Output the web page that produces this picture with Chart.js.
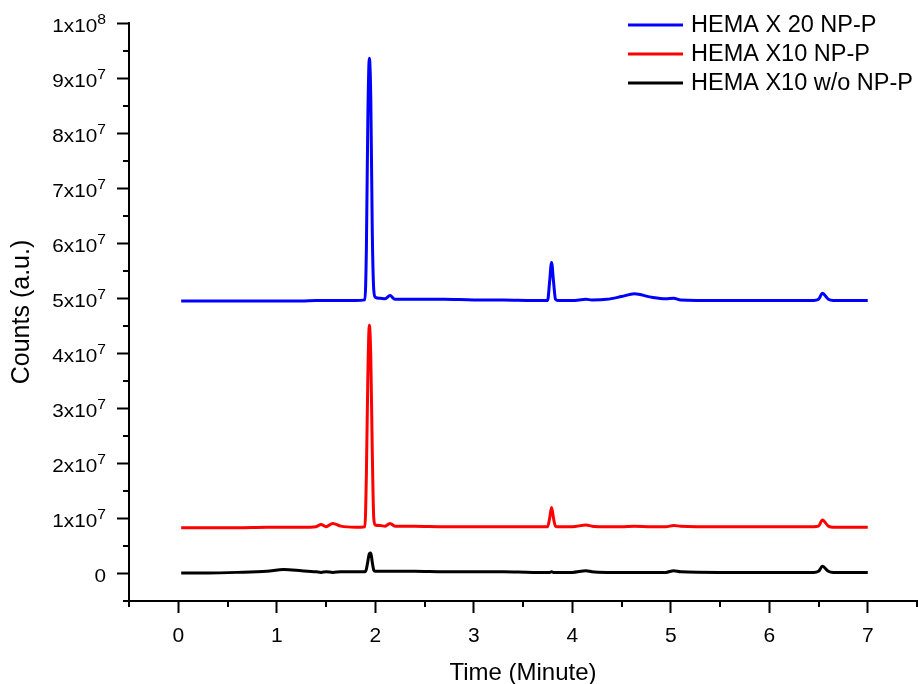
<!DOCTYPE html>
<html>
<head>
<meta charset="utf-8">
<title>HEMA chromatogram</title>
<script src="https://cdn.jsdelivr.net/npm/chart.js@4/dist/chart.umd.min.js"></script>
<style>
  html, body { margin: 0; padding: 0; background: #fff; }
  canvas { display: block; }
</style>
</head>
<body>
<canvas id="hplcChart" width="918" height="684"></canvas>
<script>
// retention time (minutes), shared by all three traces
const time = [0.03, 0.3, 0.6, 0.9, 1.07, 1.25, 1.4, 1.45, 1.5, 1.57, 1.65, 1.8,
  1.895, 1.91, 1.925, 1.94, 1.955, 1.97, 1.985, 2.0, 2.05, 2.1, 2.15, 2.2, 2.4,
  2.7, 3.0, 3.3, 3.6, 3.75, 3.77, 3.79, 3.81, 3.83, 3.85, 4.0, 4.14, 4.2, 4.35,
  4.5, 4.63, 4.8, 4.95, 5.03, 5.1, 5.5, 6.0, 6.45, 6.5, 6.54, 6.6, 6.65, 7.0];

// counts
const hemaX20 = [4.95e7, 4.95e7, 4.95e7, 4.95e7, 4.95e7, 4.95e7, 4.96e7, 4.96e7, 4.96e7, 4.96e7, 4.96e7, 4.96e7,
  4.97e7, 5.9e7, 8.3e7, 9.36e7, 8.6e7, 6.2e7, 5.15e7, 5.02e7, 5.0e7, 4.99e7, 5.05e7, 4.98e7, 4.98e7,
  4.98e7, 4.97e7, 4.97e7, 4.96e7, 4.96e7, 5.3e7, 5.65e7, 5.3e7, 4.98e7, 4.96e7, 4.96e7, 4.98e7, 4.97e7, 4.98e7,
  5.03e7, 5.08e7, 5.02e7, 4.99e7, 5.0e7, 4.97e7, 4.96e7, 4.96e7, 4.96e7, 4.98e7, 5.09e7, 4.98e7, 4.96e7, 4.96e7];

const hemaX10 = [0.83e7, 0.83e7, 0.83e7, 0.84e7, 0.84e7, 0.84e7, 0.85e7, 0.89e7, 0.85e7, 0.91e7, 0.86e7, 0.84e7,
  0.85e7, 1.8e7, 3.6e7, 4.51e7, 3.9e7, 2.2e7, 1.0e7, 0.88e7, 0.87e7, 0.86e7, 0.91e7, 0.86e7, 0.86e7,
  0.85e7, 0.85e7, 0.85e7, 0.85e7, 0.85e7, 1.0e7, 1.2e7, 1.0e7, 0.86e7, 0.85e7, 0.85e7, 0.88e7, 0.86e7, 0.85e7,
  0.85e7, 0.86e7, 0.85e7, 0.85e7, 0.87e7, 0.86e7, 0.85e7, 0.85e7, 0.85e7, 0.86e7, 0.97e7, 0.86e7, 0.84e7, 0.84e7];

const hemaX10NoNP = [0.01e7, 0.01e7, 0.02e7, 0.04e7, 0.07e7, 0.05e7, 0.03e7, 0.02e7, 0.03e7, 0.02e7, 0.03e7, 0.03e7,
  0.03e7, 0.08e7, 0.22e7, 0.36e7, 0.37e7, 0.2e7, 0.06e7, 0.04e7, 0.04e7, 0.04e7, 0.04e7, 0.04e7, 0.04e7,
  0.03e7, 0.03e7, 0.03e7, 0.02e7, 0.02e7, 0.02e7, 0.03e7, 0.02e7, 0.02e7, 0.02e7, 0.02e7, 0.05e7, 0.03e7, 0.02e7,
  0.02e7, 0.02e7, 0.02e7, 0.02e7, 0.05e7, 0.03e7, 0.02e7, 0.02e7, 0.02e7, 0.04e7, 0.13e7, 0.04e7, 0.02e7, 0.02e7];

const seriesNames = ['HEMA X 20 NP-P', 'HEMA X10 NP-P', 'HEMA X10 w/o NP-P'];
const seriesColors = ['#0000ff', '#ff0000', '#000000'];

const xTicks = [0, 1, 2, 3, 4, 5, 6, 7];
const yTicks = [0, 1e7, 2e7, 3e7, 4e7, 5e7, 6e7, 7e7, 8e7, 9e7, 1e8];
// "^" marks the start of the superscript exponent
const yTickLabels = ['0', '1x10^7', '2x10^7', '3x10^7', '4x10^7', '5x10^7', '6x10^7', '7x10^7', '8x10^7', '9x10^7', '1x10^8'];

const FONT = "'Liberation Sans', Arial, sans-serif";

// half-step minor ticks, drawn shorter than the major ones
const minorTicks = {
  id: 'minorTicks',
  afterDraw(chart) {
    const { ctx, chartArea, scales: { x, y } } = chart;
    ctx.save();
    ctx.strokeStyle = '#000';
    ctx.lineWidth = 2;
    ctx.beginPath();
    [-0.5, ...xTicks.map(v => v + 0.5)].forEach(v => {
      const px = Math.round(x.getPixelForValue(v));
      ctx.moveTo(px, chartArea.bottom);
      ctx.lineTo(px, chartArea.bottom + 6);
    });
    [-0.5e7, ...yTicks.slice(0, -1).map(v => v + 0.5e7)].forEach(v => {
      const py = Math.round(y.getPixelForValue(v));
      ctx.moveTo(chartArea.left, py);
      ctx.lineTo(chartArea.left - 6, py);
    });
    ctx.stroke();
    ctx.restore();
  }
};

// y tick labels with a raised exponent (1x10^7 style), a bit wide like the original
const powerLabels = {
  id: 'powerLabels',
  afterDraw(chart) {
    const { ctx, chartArea, scales: { y } } = chart;
    const right = chartArea.left - 23;
    const sx = 1.12;
    ctx.save();
    ctx.fillStyle = '#000';
    ctx.textAlign = 'left';
    ctx.textBaseline = 'alphabetic';
    yTicks.forEach((v, i) => {
      const py = y.getPixelForValue(v);
      const [base, exp = ''] = yTickLabels[i].split('^');
      ctx.font = '14px ' + FONT;
      const ew = exp ? ctx.measureText(exp).width * sx : 0;
      ctx.font = '18.5px ' + FONT;
      const bw = ctx.measureText(base).width * sx;
      ctx.save();
      ctx.translate(right - ew - bw, py + 9);
      ctx.scale(sx, 1);
      ctx.fillText(base, 0, 0);
      ctx.restore();
      if (exp) {
        ctx.save();
        ctx.font = '14px ' + FONT;
        ctx.translate(right - ew, py + 1);
        ctx.scale(sx, 1);
        ctx.fillText(exp, 0, 0);
        ctx.restore();
      }
    });
    ctx.restore();
  }
};

// legend as short line samples in the top right corner
const lineLegend = {
  id: 'lineLegend',
  afterDraw(chart) {
    const ctx = chart.ctx;
    ctx.save();
    ctx.font = '23.5px ' + FONT;
    ctx.textBaseline = 'middle';
    chart.data.datasets.forEach((ds, i) => {
      const yy = 25 + i * 29;
      ctx.strokeStyle = ds.borderColor;
      ctx.lineWidth = 3;
      ctx.beginPath();
      ctx.moveTo(628, yy);
      ctx.lineTo(683, yy);
      ctx.stroke();
      ctx.fillStyle = '#000';
      ctx.fillText(ds.label, 691, yy + 1);
    });
    ctx.restore();
  }
};

const traces = [hemaX20, hemaX10, hemaX10NoNP];

new Chart(document.getElementById('hplcChart'), {
  type: 'line',
  data: {
    datasets: traces.map((counts, i) => ({
      label: seriesNames[i],
      data: time.map((t, j) => ({ x: t, y: counts[j] })),
      borderColor: seriesColors[i],
      backgroundColor: seriesColors[i],
      borderWidth: 3,
      pointRadius: 0,
      cubicInterpolationMode: 'monotone',
      fill: false
    }))
  },
  options: {
    responsive: false,
    devicePixelRatio: 1,
    animation: false,
    layout: { padding: { top: 23, right: 1, left: 0, bottom: 0 } },
    plugins: {
      legend: { display: false },
      tooltip: { enabled: false }
    },
    scales: {
      x: {
        type: 'linear',
        min: -0.5,
        max: 7.5,
        afterBuildTicks: s => { s.ticks = xTicks.map(v => ({ value: v })); },
        afterFit: s => { s.height = 83; },
        ticks: { color: '#000', font: { family: FONT, size: 21 }, padding: 11 },
        grid: { drawOnChartArea: false, tickLength: 12, tickWidth: 2, tickColor: '#000' },
        border: { color: '#000', width: 2 },
        title: {
          display: true, text: 'Time (Minute)', color: '#000',
          font: { family: FONT, size: 24, lineHeight: 1 },
          padding: { top: 0, bottom: -1 }
        }
      },
      y: {
        type: 'linear',
        min: -0.5e7,
        max: 1e8,
        afterBuildTicks: s => { s.ticks = yTicks.map(v => ({ value: v })); },
        afterFit: s => { s.width = 129; },
        ticks: { display: false },
        grid: { drawOnChartArea: false, tickLength: 12, tickWidth: 2, tickColor: '#000' },
        border: { color: '#000', width: 2 },
        title: {
          display: true, text: 'Counts (a.u.)', color: '#000',
          font: { family: FONT, size: 25, lineHeight: 1 },
          padding: { top: 10, bottom: 0 }
        }
      }
    }
  },
  plugins: [minorTicks, powerLabels, lineLegend]
});
</script>
</body>
</html>
